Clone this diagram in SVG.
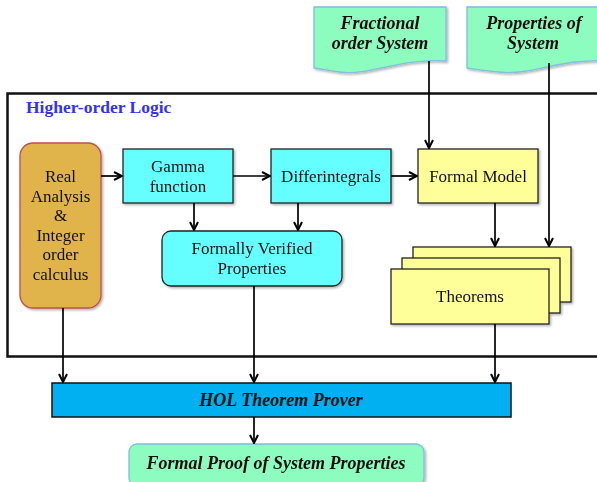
<svg xmlns="http://www.w3.org/2000/svg" width="597" height="482" viewBox="0 0 597 482">
<defs>
<marker id="arr" viewBox="0 0 10 10" refX="9" refY="5" markerWidth="10" markerHeight="10" markerUnits="userSpaceOnUse" orient="auto">
<path d="M1,1 L9,5 L1,9" fill="none" stroke="#000" stroke-width="2"/>
</marker>
<filter id="sh" x="-10%" y="-10%" width="130%" height="130%">
<feDropShadow dx="1.5" dy="1.5" stdDeviation="1" flood-color="#000" flood-opacity="0.3"/>
</filter>
</defs>
<style>
.t{font-family:"Liberation Serif",serif;font-size:17px;fill:#111;text-anchor:middle}
.bi{font-family:"Liberation Serif",serif;font-weight:bold;font-style:italic;fill:#111;text-anchor:middle}
.box{stroke:#222;stroke-width:1.3}
.cy{fill:#66FFFF}
.ye{fill:#FFFF99}
.doc{fill:#8CFDBE;stroke:#7FBFDF;stroke-width:1.3}
.c{fill:none;stroke:#000;stroke-width:1.7}
</style>
<rect width="597" height="482" fill="#fff"/>
<g id="hol-logic">
<rect x="7.5" y="93.5" width="600" height="263" fill="none" stroke="#111" stroke-width="2.5"/>
<text x="26" y="113" style="font-family:'Liberation Serif',serif;font-weight:bold;font-size:17.5px;fill:#3333EE">Higher-order Logic</text>
</g>
<g id="fractional" filter="url(#sh)">
<path class="doc" d="M314,7 H446 V61 C400,58 370,76 340,72 C330,71 322,69 314,68 Z"/>
<text class="bi" x="380" y="29" font-size="18">Fractional</text>
<text class="bi" x="380" y="49" font-size="18">order System</text>
</g>
<g id="properties" filter="url(#sh)">
<path class="doc" d="M467,7 H610 V61 C560,58 530,76 500,72 C485,71 475,69 467,68 Z"/>
<text class="bi" x="534" y="29" font-size="18">Properties of</text>
<text class="bi" x="533" y="49" font-size="18">System</text>
</g>
<g id="real-analysis" filter="url(#sh)">
<rect x="20" y="143" width="81" height="165" rx="13" fill="#E0B44B" stroke="#C0504D" stroke-width="1.3"/>
<text class="t" x="60.5" y="182">Real</text>
<text class="t" x="60.5" y="202">Analysis</text>
<text class="t" x="60.5" y="221">&amp;</text>
<text class="t" x="60.5" y="241">Integer</text>
<text class="t" x="60.5" y="260">order</text>
<text class="t" x="60.5" y="280">calculus</text>
</g>
<g id="gamma" filter="url(#sh)">
<rect class="box cy" x="123" y="149" width="110" height="54"/>
<text class="t" x="178" y="172">Gamma</text>
<text class="t" x="178" y="192">function</text>
</g>
<g id="differintegrals" filter="url(#sh)">
<rect class="box cy" x="271" y="149" width="120" height="54"/>
<text class="t" x="331" y="182">Differintegrals</text>
</g>
<g id="formal-model" filter="url(#sh)">
<rect class="box ye" x="418" y="149" width="120" height="54"/>
<text class="t" x="478" y="182">Formal Model</text>
</g>
<g id="verified" filter="url(#sh)">
<rect class="box cy" x="162" y="231" width="180" height="55" rx="9"/>
<text class="t" x="252" y="254">Formally Verified</text>
<text class="t" x="252" y="274">Properties</text>
</g>
<g id="theorems" filter="url(#sh)">
<rect class="box ye" x="413" y="247" width="158" height="55"/>
<rect class="box ye" x="402" y="258" width="158" height="55"/>
<rect class="box ye" x="391" y="269" width="158" height="55"/>
<text class="t" x="470" y="302">Theorems</text>
</g>
<g id="hol-prover">
<rect x="52" y="383" width="459" height="34" fill="#00B0F0" stroke="#111" stroke-width="1.5"/>
<text class="bi" x="281" y="406" font-size="18">HOL Theorem Prover</text>
</g>
<g id="formal-proof" filter="url(#sh)">
<rect x="129" y="444" width="295" height="42" rx="8" fill="#8CFDBE" stroke="#7FBFDF" stroke-width="1.3"/>
<text class="bi" x="276" y="469" font-size="18">Formal Proof of System Properties</text>
</g>
<g id="connectors">
<line class="c" x1="101" y1="176" x2="122" y2="176" marker-end="url(#arr)"/>
<line class="c" x1="233" y1="176" x2="270" y2="176" marker-end="url(#arr)"/>
<line class="c" x1="391" y1="176" x2="417" y2="176" marker-end="url(#arr)"/>
<line class="c" x1="194" y1="203" x2="194" y2="230" marker-end="url(#arr)"/>
<line class="c" x1="298" y1="203" x2="298" y2="230" marker-end="url(#arr)"/>
<line class="c" x1="429" y1="61" x2="429" y2="148" marker-end="url(#arr)"/>
<line class="c" x1="549" y1="63" x2="549" y2="246" marker-end="url(#arr)"/>
<line class="c" x1="495" y1="203" x2="495" y2="246" marker-end="url(#arr)"/>
<line class="c" x1="63" y1="308" x2="63" y2="382" marker-end="url(#arr)"/>
<line class="c" x1="254" y1="286" x2="254" y2="382" marker-end="url(#arr)"/>
<line class="c" x1="495" y1="324" x2="495" y2="382" marker-end="url(#arr)"/>
<line class="c" x1="254" y1="417" x2="254" y2="443" marker-end="url(#arr)"/>
</g>
</svg>
